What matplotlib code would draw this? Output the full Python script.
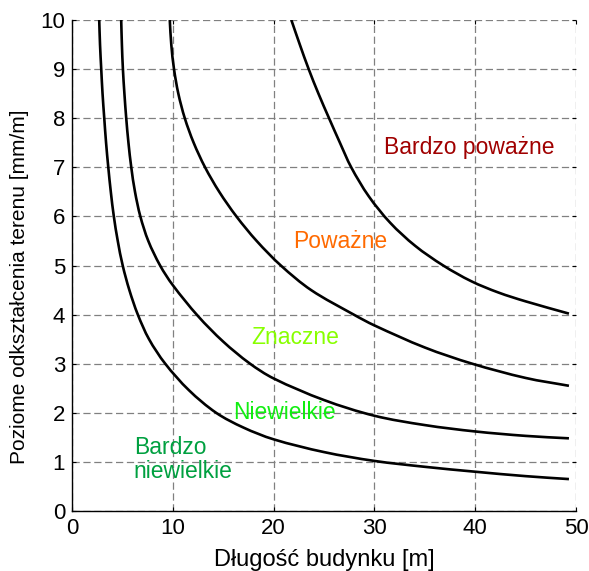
import matplotlib
matplotlib.use("Agg")
import matplotlib.pyplot as plt
from matplotlib.path import Path
from matplotlib.patches import PathPatch

plt.rcParams['font.family'] = ['Liberation Sans', 'DejaVu Sans']

# Curve boundaries between damage categories (x: building length [m], y: strain [mm/m])
c1_x = [2.7, 2.78, 2.9, 3.03, 3.2, 3.38, 3.6, 3.85, 4.15, 4.54, 5.03, 5.69, 6.53, 7.64, 9.25, 11.6, 14.3,
        17.0, 20.0, 25.0, 30.0, 35.0, 40.0, 45.0, 49.3]
c1_y = [10.0, 9.5, 9.0, 8.5, 8.0, 7.5, 7.0, 6.5, 6.0, 5.5, 5.0, 4.5, 4.0, 3.5, 3.0, 2.46, 2.0,
        1.7, 1.46, 1.2, 1.02, 0.9, 0.8, 0.71, 0.65]

c2_x = [4.88, 4.95, 5.05, 5.2, 5.38, 5.6, 5.88, 6.25, 6.78, 7.57, 8.74, 10.0, 12.5, 15.0, 17.6, 20.0,
        25.0, 30.0, 35.0, 40.0, 45.0, 49.3]
c2_y = [10.0, 9.5, 9.0, 8.5, 8.0, 7.5, 7.0, 6.5, 6.0, 5.5, 5.0, 4.6, 3.97, 3.45, 3.01, 2.7,
        2.26, 1.94, 1.75, 1.62, 1.53, 1.48]

c3_x = [9.7, 9.85, 10.12, 10.55, 11.19, 12.07, 13.2, 14.61, 16.31, 18.32, 20.72, 23.72, 27.95, 30.0, 35.0,
        39.7, 45.0, 49.3]
c3_y = [10.0, 9.5, 9.0, 8.5, 8.0, 7.5, 7.0, 6.5, 6.0, 5.5, 5.0, 4.5, 4.0, 3.78, 3.33,
        3.0, 2.71, 2.55]

c4_x = [21.76, 22.6, 23.48, 24.45, 25.5, 26.58, 27.7, 29.44, 31.57, 34.05, 36.83, 39.61, 42.3, 45.0, 49.3]
c4_y = [10.0, 9.5, 9.0, 8.5, 8.0, 7.5, 7.0, 6.41, 5.87, 5.4, 5.0, 4.68, 4.45, 4.27, 4.02]

curves = [(c1_x, c1_y), (c2_x, c2_y), (c3_x, c3_y), (c4_x, c4_y)]

labels = ["Bardzo\nniewielkie", "Niewielkie", "Znaczne", "Poważne", "Bardzo poważne"]
label_x = [6.13, 15.95, 17.75, 21.9, 30.95]
label_y = [0.67, 1.87, 3.41, 5.36, 7.27]
label_colors = ["#00a040", "#11ee11", "#88ff00", "#ff6a00", "#a00000"]

x_ticks = [0, 10, 20, 30, 40, 50]
y_ticks = [0, 1, 2, 3, 4, 5, 6, 7, 8, 9, 10]

# approximate pixel scale of one data unit, used only to weight the smoothing
SX, SY = 10.08, 49.1


def smooth_path(xs, ys):
    """Smooth curve through every read point (chord-length Catmull-Rom as cubic Bezier)."""
    pts = list(zip(xs, ys))
    n = len(pts)
    d = [(((pts[i + 1][0] - pts[i][0]) * SX) ** 2 + ((pts[i + 1][1] - pts[i][1]) * SY) ** 2) ** 0.5
         for i in range(n - 1)]
    tan = []
    for i in range(n):
        if i == 0:
            tan.append(((pts[1][0] - pts[0][0]) / d[0], (pts[1][1] - pts[0][1]) / d[0]))
        elif i == n - 1:
            tan.append(((pts[-1][0] - pts[-2][0]) / d[-1], (pts[-1][1] - pts[-2][1]) / d[-1]))
        else:
            s = d[i - 1] + d[i]
            tan.append(((pts[i + 1][0] - pts[i - 1][0]) / s, (pts[i + 1][1] - pts[i - 1][1]) / s))
    verts = [pts[0]]
    codes = [Path.MOVETO]
    for i in range(n - 1):
        h = d[i] / 3.0
        c1 = (pts[i][0] + tan[i][0] * h, pts[i][1] + tan[i][1] * h)
        c2 = (pts[i + 1][0] - tan[i + 1][0] * h, pts[i + 1][1] - tan[i + 1][1] * h)
        verts += [c1, c2, pts[i + 1]]
        codes += [Path.CURVE4, Path.CURVE4, Path.CURVE4]
    return Path(verts, codes)


fig = plt.figure(figsize=(5.89, 5.71), dpi=100)
ax = fig.add_axes([72/589, 60/571, 504/589, 491/571])

ax.set_xlim(0, 50)
ax.set_ylim(0, 10)
ax.set_xticks(x_ticks)
ax.set_yticks(y_ticks)

ax.grid(True, color="#808080", linestyle=(0, (5.8, 2.9)), linewidth=0.9)
ax.set_axisbelow(True)

for xs, ys in curves:
    patch = PathPatch(smooth_path(xs, ys), facecolor="none", edgecolor="black",
                      linewidth=1.9, capstyle="butt", joinstyle="round", zorder=2)
    ax.add_patch(patch)

for t, x, y, c in zip(labels, label_x, label_y, label_colors):
    ax.text(x, y, t, color=c, fontsize=16.5, ha="left", va="baseline",
            linespacing=1.05, zorder=3)

for s in ["top", "right"]:
    ax.spines[s].set_visible(False)
for s in ["left", "bottom"]:
    ax.spines[s].set_linewidth(1.0)
    ax.spines[s].set_color("black")

ax.tick_params(direction="in", length=3, width=0.8, labelsize=16,
               top=True, right=True, pad=5, colors="black")

ax.set_xlabel("Długość budynku [m]", fontsize=17)
ax.set_ylabel("Poziome odkształcenia terenu [mm/m]", fontsize=15)
ax.xaxis.set_label_coords(0.5, -0.077)
ax.yaxis.set_label_coords(-0.085, 0.456)

fig.savefig("out.png", dpi=100)
